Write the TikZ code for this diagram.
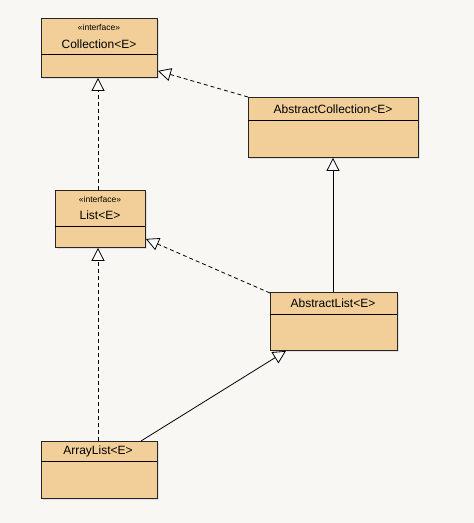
\documentclass[tikz,border=0pt]{standalone}
\usepackage{fontspec}
\setmainfont{Liberation Sans}
\usetikzlibrary{arrows.meta,calc}
\definecolor{bg}{HTML}{F8F7F3}
\definecolor{boxc}{HTML}{F2CF98}
\begin{document}
\begin{tikzpicture}[x=1pt,y=-1pt,
  box/.style={draw=black!85,fill=boxc,line width=0.9pt,inner sep=0pt,anchor=north west},
  realiz/.style={dash pattern=on 4pt off 3pt,line width=0.8pt},
  inher/.style={line width=0.8pt},
  gen/.style={-{Triangle[open,length=13pt,width=13pt,fill=white]}},
  nm/.style={font=\fontsize{12}{12}\selectfont,inner sep=0pt},
  st/.style={font=\fontsize{8.5}{9}\selectfont,inner sep=0pt}]
\fill[bg] (0,0) rectangle (474,523);
\useasboundingbox (0,0) rectangle (474,523);
% shadows
\foreach \a/\b/\c/\d in {41/18/157/77, 248/97/418/157, 55/190/145/247, 270/292/397/350, 41/441/157/498}
  \fill[black!12] (\a+2,\b+2) rectangle (\c+2,\d+2);
% boxes
\node[box,minimum width=116pt,minimum height=59pt] (coll) at (41,18) {};
\draw[line width=0.9pt] (41,54) -- (157,54);
\node[st] (collst) at (99,27) {«interface»};
\node[nm] (collnm) at (99,44) {Collection<E>};
\node[box,minimum width=170pt,minimum height=60pt] (acoll) at (248,97) {};
\draw[line width=0.9pt] (248,120) -- (418,120);
\node[nm] (acollnm) at (333,109) {AbstractCollection<E>};
\node[box,minimum width=90pt,minimum height=57pt] (list) at (55,190) {};
\draw[line width=0.9pt] (55,226) -- (145,226);
\node[st] (listst) at (100,199) {«interface»};
\node[nm] (listnm) at (100,215) {List<E>};
\node[box,minimum width=127pt,minimum height=58pt] (alist) at (270,292) {};
\draw[line width=0.9pt] (270,314) -- (397,314);
\node[nm] (alistnm) at (333,303) {AbstractList<E>};
\node[box,minimum width=116pt,minimum height=57pt] (arr) at (41,441) {};
\draw[line width=0.9pt] (41,461) -- (157,461);
\node[nm] (arrnm) at (98,451) {ArrayList<E>};
% edges
\draw[realiz,gen] (acoll.north west) -- ($(coll.south east)+(0,-7)$);
\draw[realiz,gen] ($(list.north west)+(43,0)$) -- ($(coll.south west)+(57,0)$);
\draw[inher,gen] ($(alist.north west)+(63,0)$) -- ($(acoll.south west)+(85,0)$);
\draw[realiz,gen] ($(alist.north west)+(0,1)$) -- ($(list.south east)+(0,-9)$);
\draw[realiz,gen] ($(arr.north west)+(57,0)$) -- ($(list.south west)+(43,0)$);
\draw[inher,gen] ($(arr.north west)+(100,0)$) -- ($(alist.south west)+(16,0)$);
\end{tikzpicture}
\end{document}
